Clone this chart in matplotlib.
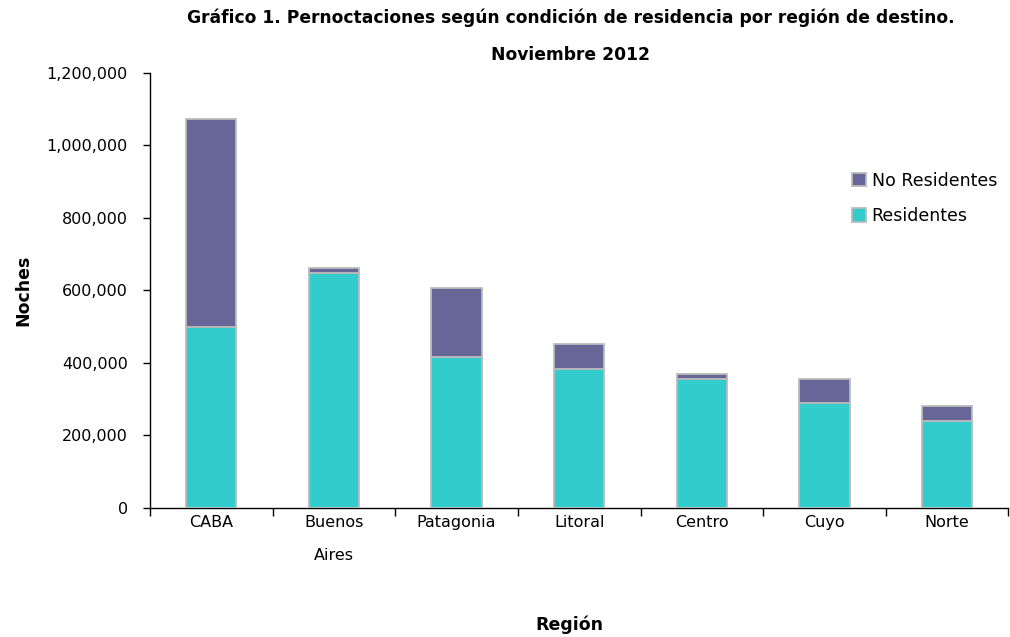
import matplotlib
matplotlib.use("Agg")
import matplotlib.pyplot as plt
from matplotlib.ticker import FuncFormatter, FixedLocator
import numpy as np

regions = ["CABA", "Buenos\nAires", "Patagonia", "Litoral", "Centro", "Cuyo", "Norte"]
residentes = [500000, 647000, 417000, 383000, 357000, 290000, 239000]
no_residentes = [572000, 14000, 190000, 68000, 13000, 67000, 42000]

plt.rcParams['font.family'] = ['DejaVu Sans']
fig = plt.figure(figsize=(10.1, 6.37), dpi=100)
ax = fig.add_axes([0.1485, 0.2025, 0.85, 0.683])

x = np.arange(len(regions))
w = 0.41
ax.bar(x, residentes, w, color="#33CCCC", edgecolor="#BBBBBB", linewidth=1.3, label="Residentes", zorder=3)
ax.bar(x, no_residentes, w, bottom=residentes, color="#666699", edgecolor="#BBBBBB", linewidth=1.3,
       label="No Residentes", zorder=3)

ax.set_xlim(-0.5, len(regions) - 0.5)
ax.set_ylim(0, 1200000)
ax.set_yticks(np.arange(0, 1200001, 200000))
ax.yaxis.set_major_formatter(FuncFormatter(lambda v, p: f"{int(v):,}"))
ax.set_xticks(x)
ax.set_xticklabels(regions, fontsize=11.5, linespacing=2.5)
ax.xaxis.set_minor_locator(FixedLocator(np.arange(-0.5, len(regions), 1.0)))
ax.tick_params(axis='x', which='major', length=0, pad=5)
ax.tick_params(axis='x', which='minor', length=6, width=1, direction='out')
ax.tick_params(axis='y', length=5, width=1, labelsize=11.5, pad=11)

for s in ["top", "right"]:
    ax.spines[s].set_visible(False)
for s in ["left", "bottom"]:
    ax.spines[s].set_linewidth(1)

ax.set_ylabel("Noches", fontsize=12.5, fontweight="bold", labelpad=10)

handles, labels = ax.get_legend_handles_labels()
ax.legend(handles[::-1], labels[::-1], loc="upper left", bbox_to_anchor=(0.80, 0.809), frameon=False,
          fontsize=12.5, handlelength=0.8, handleheight=0.8, handletextpad=0.3, labelspacing=1.0)

fig.text(0.565, 0.972, "Gráfico 1. Pernoctaciones según condición de residencia por región de destino.",
         ha="center", va="center", fontsize=12.3, fontweight="bold")
fig.text(0.565, 0.913, "Noviembre 2012", ha="center", va="center", fontsize=12.3, fontweight="bold")
fig.text(0.564, 0.019, "Región", ha="center", va="center", fontsize=12.5, fontweight="bold")

fig.savefig("out.png", dpi=100)
